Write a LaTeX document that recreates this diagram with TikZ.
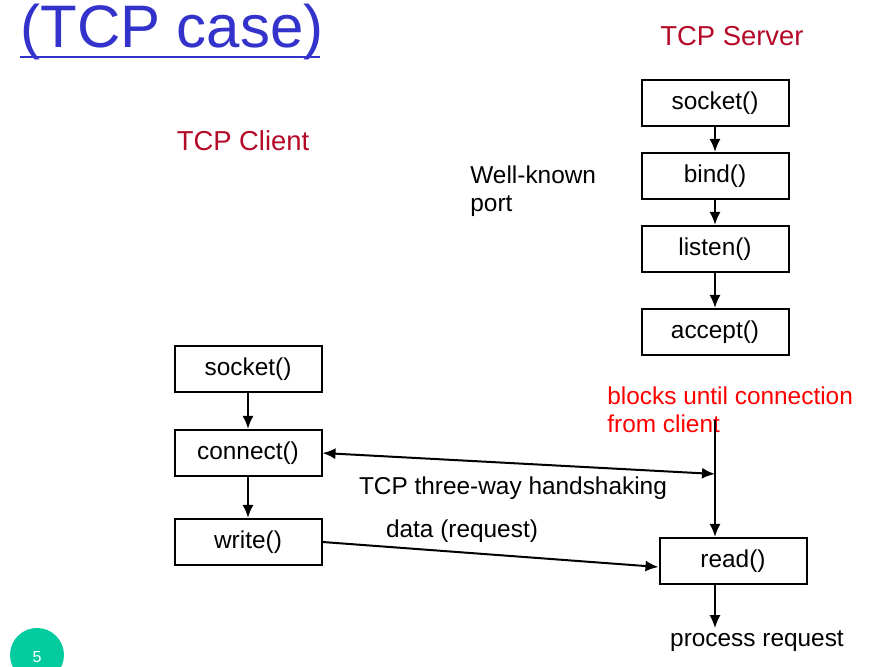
\documentclass[tikz,border=0pt]{standalone}
\usepackage{fontspec}
\setmainfont{Liberation Sans}
\usetikzlibrary{arrows.meta}
\definecolor{titleblue}{RGB}{51,51,204}
\definecolor{headred}{RGB}{180,10,40}
\definecolor{slidegreen}{RGB}{0,204,160}
\begin{document}
\begin{tikzpicture}[x=0.5pt,y=-0.5pt,
  fbox/.style={draw,line width=1pt,minimum width=73.5pt,minimum height=23pt,inner sep=0pt,font=\fontsize{12.2}{14}\selectfont},
  lbl/.style={font=\fontsize{12.2}{14}\selectfont,inner sep=1pt},
  arr/.style={line width=1pt,-{Latex[length=6.5pt,width=5.5pt]}}]
\useasboundingbox (0,0) rectangle (890,667);
\node[anchor=base west,text=titleblue,font=\fontsize{30}{32}\selectfont,inner sep=0pt] (title) at (20,48) {(TCP case)};
\draw[titleblue,line width=1.2pt] (20,57) -- (320,57);
\node[lbl,text=headred,font=\fontsize{13.7}{15}\selectfont] (srvhead) at (732,36) {TCP Server};
\node[lbl,text=headred,font=\fontsize{13.7}{15}\selectfont] (clihead) at (243,141) {TCP Client};
\node[lbl,anchor=west,align=left] (wkp) at (468,191) {Well-known\\port};
\node[fbox] (ssocket) at (715,103) {socket()};
\node[fbox] (sbind) at (715,176) {bind()};
\node[fbox] (slisten) at (715,249) {listen()};
\node[fbox] (saccept) at (715,332) {accept()};
\draw[arr] (ssocket) -- (sbind);
\draw[arr] (sbind) -- (slisten);
\draw[arr] (slisten) -- (saccept);
\node[fbox] (csocket) at (248,369) {socket()};
\node[fbox] (cconnect) at (248,453) {connect()};
\node[fbox] (cwrite) at (248,542) {write()};
\draw[arr] (csocket) -- (cconnect);
\draw[arr] (cconnect) -- (cwrite);
\node[lbl,anchor=west,align=left,text=red] (blocks) at (605,410) {blocks until connection\\from client};
\coordinate (blk) at (715,420);
\coordinate (hs) at (715,474);
\node[fbox] (sread) at (733,561) {read()};
\draw[arr] (blk) -- (blk |- sread.north);
\draw[line width=1pt,{Latex[length=6.5pt,width=5.5pt]}-{Latex[length=6.5pt,width=5.5pt]}] (cconnect.east) -- (hs);
\node[lbl] (hslbl) at (513,488) {TCP three-way handshaking};
\draw[arr] (cwrite.east) -- ([yshift=-3pt]sread.west);
\node[lbl] (datalbl) at (462,531) {data (request)};
\node[lbl] (proc) at (757,641) {process request};
\draw[arr] (blk |- sread.south) -- (blk |- proc.north);
\fill[slidegreen] (37,655) circle (13.5pt);
\node[text=white,font=\fontsize{8}{9}\selectfont] (pnum) at (37,657) {5};
\end{tikzpicture}
\end{document}
